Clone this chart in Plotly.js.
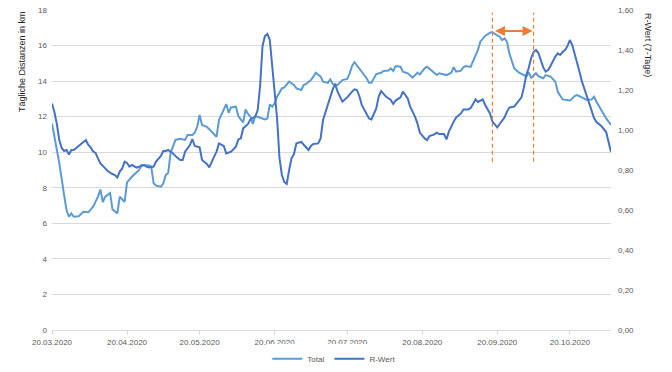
<!DOCTYPE html>
<html>
<head>
<meta charset="utf-8">
<script src="https://cdn.plot.ly/plotly-3.0.1.min.js"></script>
<style>
  html, body { margin: 0; padding: 0; background: #ffffff; }
  #chart { width: 672px; height: 372px; }
</style>
</head>
<body>
<div id="chart"></div>
<script>
// ---- Data ----
const totalDates = [
  '2020-03-20','2020-03-23','2020-03-25','2020-03-26','2020-03-27','2020-03-28','2020-03-29','2020-03-31',
  '2020-04-02','2020-04-04','2020-04-06','2020-04-08','2020-04-09','2020-04-10','2020-04-11','2020-04-13',
  '2020-04-14','2020-04-15','2020-04-16','2020-04-17','2020-04-18','2020-04-19','2020-04-20','2020-04-22',
  '2020-04-25','2020-04-26','2020-04-29','2020-04-30','2020-05-01','2020-05-02','2020-05-04','2020-05-05',
  '2020-05-06','2020-05-07','2020-05-08','2020-05-10','2020-05-12','2020-05-14','2020-05-15','2020-05-17',
  '2020-05-18','2020-05-19','2020-05-20','2020-05-21','2020-05-23','2020-05-25','2020-05-26','2020-05-27',
  '2020-05-28','2020-05-30','2020-05-31','2020-06-01','2020-06-02','2020-06-04','2020-06-05','2020-06-06',
  '2020-06-07','2020-06-08','2020-06-09','2020-06-10','2020-06-11','2020-06-12','2020-06-13','2020-06-15',
  '2020-06-16','2020-06-17','2020-06-18','2020-06-19','2020-06-20','2020-06-21','2020-06-23','2020-06-24',
  '2020-06-26','2020-06-28','2020-06-29','2020-07-01','2020-07-02','2020-07-03','2020-07-05','2020-07-06',
  '2020-07-07','2020-07-09','2020-07-10','2020-07-12','2020-07-13','2020-07-14','2020-07-16','2020-07-18',
  '2020-07-20','2020-07-21','2020-07-22','2020-07-23','2020-07-25','2020-07-26','2020-07-28','2020-07-29',
  '2020-07-30','2020-08-01','2020-08-03','2020-08-04','2020-08-06','2020-08-07','2020-08-08','2020-08-09',
  '2020-08-11','2020-08-12','2020-08-14','2020-08-16','2020-08-18','2020-08-19','2020-08-21','2020-08-22',
  '2020-08-24','2020-08-26','2020-08-27','2020-08-30','2020-09-01','2020-09-02','2020-09-03','2020-09-05',
  '2020-09-06','2020-09-07','2020-09-09','2020-09-10','2020-09-12','2020-09-13','2020-09-15','2020-09-17',
  '2020-09-18','2020-09-19','2020-09-21','2020-09-22','2020-09-23','2020-09-24','2020-09-25','2020-09-27',
  '2020-09-29','2020-10-01','2020-10-02','2020-10-03','2020-10-04','2020-10-06','2020-10-07','2020-10-09',
  '2020-10-10','2020-10-12','2020-10-14','2020-10-15','2020-10-17','2020-10-19','2020-10-20','2020-10-22',
  '2020-10-23','2020-10-25','2020-10-27','2020-10-29','2020-10-30','2020-10-31','2020-11-02','2020-11-04',
  '2020-11-06'
];
const totalKm = [
  11.62, 9.4, 7.6, 6.75, 6.37, 6.56, 6.37, 6.4,
  6.65, 6.62, 6.94, 7.5, 7.9, 7.2, 7.5, 7.7,
  6.79, 6.65, 6.56, 7.5, 7.37, 7.2, 8.3, 8.62,
  9.0, 9.28, 9.25, 9.2, 8.25, 8.12, 8.06, 8.25,
  8.72, 8.83, 9.94, 10.69, 10.75, 10.69, 10.97, 10.97,
  11.1, 11.43, 12.09, 11.53, 11.43, 11.15, 11.06, 10.87,
  11.81, 12.37, 12.71, 12.22, 12.52, 12.56, 12.04, 11.85,
  11.68, 12.41, 12.15, 12.0, 11.59, 12.04, 12.0, 11.9,
  11.85, 11.9, 12.69, 12.56, 12.75, 13.12, 13.59, 13.65,
  13.97, 13.78, 13.59, 13.5, 13.78, 13.84, 14.06, 14.25,
  14.47, 14.25, 13.97, 13.9, 14.1, 13.84, 13.78, 14.06,
  14.12, 14.44, 14.85, 15.06, 14.72, 14.53, 14.16, 13.91,
  13.91, 14.4, 14.47, 14.57, 14.59, 14.72, 14.57, 14.85,
  14.81, 14.53, 14.44, 14.19, 14.47, 14.38, 14.72, 14.81,
  14.57, 14.34, 14.44, 14.34, 14.47, 14.78, 14.53, 14.59,
  14.78, 14.85, 14.8, 15.1, 15.75, 16.22, 16.54, 16.72,
  16.76, 16.65, 16.5, 16.31, 16.4, 16.22, 15.56, 14.72,
  14.47, 14.34, 14.25, 14.5, 14.19, 14.44, 14.28, 14.16,
  14.34, 14.25, 13.97, 13.4, 12.97, 12.94, 12.9, 13.16,
  13.22, 13.09, 12.94, 12.97, 13.12, 12.84, 12.37, 11.9,
  11.53
];

const rDates = [
  '2020-03-20','2020-03-21','2020-03-22','2020-03-23','2020-03-24','2020-03-25','2020-03-26','2020-03-27',
  '2020-03-28','2020-03-29','2020-03-31','2020-04-01','2020-04-03','2020-04-04','2020-04-05','2020-04-06',
  '2020-04-07','2020-04-08','2020-04-09','2020-04-11','2020-04-12','2020-04-14','2020-04-15','2020-04-16',
  '2020-04-17','2020-04-18','2020-04-19','2020-04-20','2020-04-21','2020-04-22','2020-04-24','2020-04-25',
  '2020-04-27','2020-04-28','2020-04-29','2020-05-01','2020-05-02','2020-05-04','2020-05-05','2020-05-06',
  '2020-05-07','2020-05-09','2020-05-10','2020-05-12','2020-05-13','2020-05-14','2020-05-16','2020-05-17',
  '2020-05-18','2020-05-20','2020-05-21','2020-05-23','2020-05-24','2020-05-26','2020-05-27','2020-05-28',
  '2020-05-30','2020-05-31','2020-06-02','2020-06-04','2020-06-05','2020-06-06','2020-06-07','2020-06-09',
  '2020-06-10','2020-06-12','2020-06-13','2020-06-14','2020-06-15','2020-06-16','2020-06-17','2020-06-18',
  '2020-06-19','2020-06-20','2020-06-21','2020-06-22','2020-06-23','2020-06-24','2020-06-25','2020-06-26',
  '2020-06-27','2020-06-28','2020-06-29','2020-07-01','2020-07-02','2020-07-04','2020-07-05','2020-07-06',
  '2020-07-08','2020-07-09','2020-07-10','2020-07-12','2020-07-13','2020-07-14','2020-07-15','2020-07-16',
  '2020-07-18','2020-07-20','2020-07-22','2020-07-23','2020-07-24','2020-07-25','2020-07-26','2020-07-28',
  '2020-07-29','2020-07-30','2020-08-01','2020-08-02','2020-08-03','2020-08-05','2020-08-06','2020-08-07',
  '2020-08-08','2020-08-09','2020-08-11','2020-08-12','2020-08-14','2020-08-15','2020-08-17','2020-08-18',
  '2020-08-19','2020-08-21','2020-08-22','2020-08-23','2020-08-25','2020-08-26','2020-08-27','2020-08-29',
  '2020-08-30','2020-08-31','2020-09-02','2020-09-03','2020-09-05','2020-09-06','2020-09-08','2020-09-09',
  '2020-09-10','2020-09-11','2020-09-12','2020-09-14','2020-09-15','2020-09-17','2020-09-18','2020-09-19',
  '2020-09-20','2020-09-21','2020-09-23','2020-09-24','2020-09-25','2020-09-27','2020-09-28','2020-09-30',
  '2020-10-01','2020-10-02','2020-10-03','2020-10-04','2020-10-05','2020-10-06','2020-10-07','2020-10-08',
  '2020-10-09','2020-10-10','2020-10-11','2020-10-12','2020-10-13','2020-10-14','2020-10-15','2020-10-16',
  '2020-10-17','2020-10-18','2020-10-19','2020-10-20','2020-10-21','2020-10-22','2020-10-23','2020-10-24',
  '2020-10-25','2020-10-26','2020-10-27','2020-10-28','2020-10-29','2020-10-30','2020-10-31','2020-11-01',
  '2020-11-02','2020-11-03','2020-11-04','2020-11-05','2020-11-06'
];
const rValues = [
  1.133, 1.09, 1.03, 0.95, 0.91, 0.895, 0.90, 0.878,
  0.90, 0.90, 0.92, 0.93, 0.95, 0.925, 0.913, 0.892,
  0.885, 0.858, 0.833, 0.808, 0.795, 0.78, 0.775, 0.763,
  0.792, 0.808, 0.842, 0.835, 0.817, 0.825, 0.812, 0.817,
  0.825, 0.817, 0.813, 0.817, 0.842, 0.87, 0.895, 0.895,
  0.90, 0.883, 0.87, 0.85, 0.85, 0.892, 0.925, 0.955,
  0.92, 0.913, 0.85, 0.83, 0.813, 0.867, 0.892, 0.933,
  0.92, 0.883, 0.892, 0.917, 0.953, 0.958, 1.008, 1.03,
  1.053, 1.067, 1.10, 1.22, 1.42, 1.47, 1.48, 1.45,
  1.33, 1.19, 1.06, 0.86, 0.775, 0.74, 0.73, 0.80,
  0.86, 0.88, 0.933, 0.94, 0.925, 0.90, 0.92, 0.93,
  0.933, 0.958, 1.05, 1.125, 1.17, 1.203, 1.23, 1.192,
  1.142, 1.163, 1.192, 1.203, 1.20, 1.17, 1.125, 1.075,
  1.058, 1.053, 1.108, 1.167, 1.195, 1.167, 1.16, 1.15,
  1.13, 1.147, 1.163, 1.192, 1.158, 1.117, 1.067, 1.033,
  0.987, 0.958, 0.95, 0.97, 0.978, 0.987, 0.98, 0.98,
  0.953, 0.992, 1.042, 1.063, 1.083, 1.103, 1.103, 1.11,
  1.13, 1.153, 1.14, 1.153, 1.125, 1.083, 1.042, 1.025,
  1.013, 1.03, 1.063, 1.092, 1.112, 1.117, 1.133, 1.163,
  1.213, 1.275, 1.31, 1.36, 1.39, 1.40, 1.385, 1.35,
  1.313, 1.292, 1.30, 1.32, 1.345, 1.367, 1.383, 1.375,
  1.39, 1.40, 1.42, 1.45, 1.425, 1.375, 1.33, 1.29,
  1.242, 1.21, 1.17, 1.133, 1.09, 1.06, 1.04, 1.03,
  1.02, 1.005, 0.99, 0.94, 0.89
];

const tickDates = ['2020-03-20','2020-04-20','2020-05-20','2020-06-20','2020-07-20','2020-08-20','2020-09-20','2020-10-20'];
const tickLabels = ['20.03.2020','20.04.2020','20.05.2020','20.06.2020','20.07.2020','20.08.2020','20.09.2020','20.10.2020'];
const seriesNames = ['Total', 'R-Wert'];
const axisTitles = ['Tägliche Distanzen in km', 'R-Wert (7-Tage)'];
// Marked interval (orange dashed lines + double arrow)
const markerDates = ['2020-09-18', '2020-10-05'];
const markerSpan = [9.47, 17.85];
const arrowLevel = 16.82;

// ---- Styles ----
const FONT = 'Liberation Sans, Arial, sans-serif';
const GREY = '#595959';
const ORANGE = '#ED7D31';

const traces = [
  {
    x: totalDates, y: totalKm, name: seriesNames[0], type: 'scatter', mode: 'lines',
    line: { color: '#5B9BD5', width: 2 }, yaxis: 'y'
  },
  {
    x: rDates, y: rValues, name: seriesNames[1], type: 'scatter', mode: 'lines',
    line: { color: '#4472C4', width: 2 }, yaxis: 'y2'
  }
];

const shapes = markerDates.map(d => ({
  type: 'line', xref: 'x', yref: 'y',
  x0: d, x1: d, y0: markerSpan[0], y1: markerSpan[1],
  line: { color: ORANGE, width: 1.2, dash: '4px,3px' }
}));

const layout = {
  width: 672, height: 372,
  margin: { l: 52, r: 61, t: 10, b: 42, pad: 0, autoexpand: false },
  paper_bgcolor: '#ffffff', plot_bgcolor: '#ffffff',
  separators: ',.',
  font: { family: FONT, size: 8, color: GREY },
  showlegend: true,
  legend: {
    orientation: 'h', x: 0.505, xanchor: 'center', y: -0.09, yanchor: 'middle',
    font: { family: FONT, size: 8, color: GREY }, itemwidth: 30, tracegroupgap: 0
  },
  xaxis: {
    type: 'date',
    range: ['2020-03-20', '2020-11-06'],
    tickmode: 'array', tickvals: tickDates, ticktext: tickLabels,
    showgrid: false, zeroline: false,
    showline: true, linecolor: '#d9d9d9', linewidth: 1,
    ticks: 'outside', ticklen: 4, tickcolor: '#d9d9d9',
    tickfont: { family: FONT, size: 8, color: GREY }
  },
  yaxis: {
    range: [0, 18], dtick: 2, tick0: 0,
    showgrid: true, gridcolor: '#d9d9d9', gridwidth: 1,
    zeroline: false, showline: false, ticks: '',
    ticklabelstandoff: 4,
    tickfont: { family: FONT, size: 8, color: GREY }
  },
  yaxis2: {
    range: [0, 1.6], dtick: 0.2, tick0: 0, tickformat: '.2f',
    overlaying: 'y', side: 'right', anchor: 'x',
    showgrid: false, zeroline: false, showline: false, ticks: '',
    ticklabelstandoff: 6,
    tickfont: { family: FONT, size: 8, color: GREY }
  },
  shapes: shapes,
  annotations: [
    {
      text: axisTitles[0], xref: 'paper', yref: 'paper',
      x: (22 - 52) / 559, y: (330 - 62) / 320, textangle: -90,
      showarrow: false, font: { family: FONT, size: 9, color: '#262626' },
      xanchor: 'center', yanchor: 'middle'
    },
    {
      text: axisTitles[1], xref: 'paper', yref: 'paper',
      x: (648 - 52) / 559, y: (330 - 45) / 320, textangle: 90,
      showarrow: false, font: { family: FONT, size: 9, color: '#262626' },
      xanchor: 'center', yanchor: 'middle'
    },
    {
      text: '', xref: 'x', yref: 'y', axref: 'x', ayref: 'y',
      x: markerDates[1], y: arrowLevel, ax: markerDates[0], ay: arrowLevel,
      showarrow: true, arrowhead: 2, arrowside: 'end+start', arrowsize: 1,
      arrowwidth: 2, arrowcolor: ORANGE, standoff: 1, startstandoff: 1
    }
  ]
};

Plotly.newPlot('chart', traces, layout, { staticPlot: true, displayModeBar: false });
</script>
</body>
</html>
